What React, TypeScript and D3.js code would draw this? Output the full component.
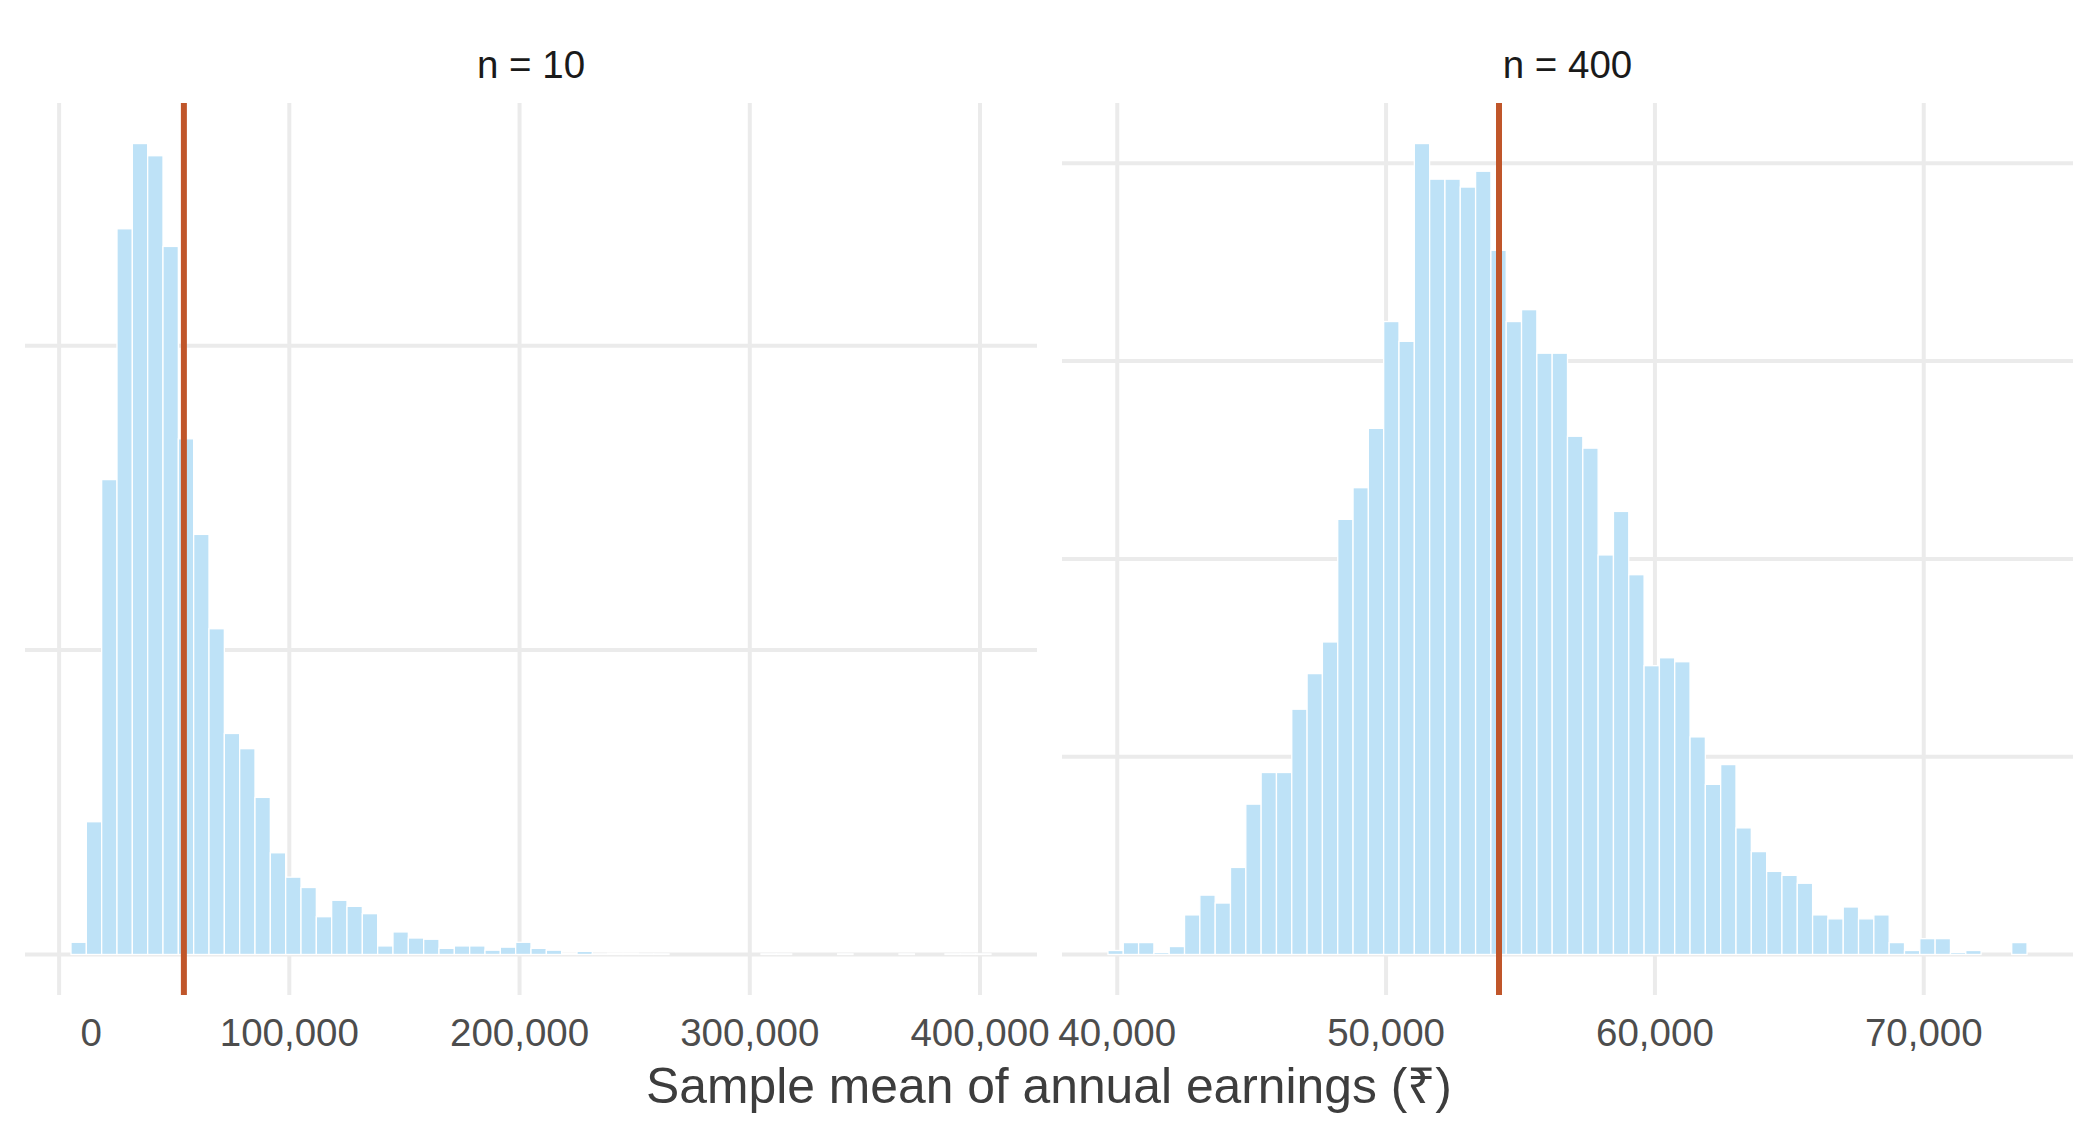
import { useEffect } from 'react'
import * as d3 from 'd3'

// histogram counts, 60 bins per panel
const smallCounts = [
  20, 218, 780, 1192, 1332, 1312, 1163, 847, 690, 535,
  363, 338, 258, 167, 127, 110, 62, 89, 79, 67,
  14, 37, 27, 25, 10, 14, 14, 7, 12, 20,
  10, 7, 2, 5, 1, 2, 2, 1, 1, 0,
  0, 0, 0, 0, 0, 1, 1, 0, 0, 0,
  1, 0, 0, 0, 1, 0, 0, 1, 1, 1,
]
const largeCounts = [
  2, 6, 6, 1, 4, 20, 30, 26, 44, 76,
  92, 92, 124, 142, 158, 220, 236, 266, 320, 310,
  410, 392, 392, 388, 396, 356, 320, 326, 304, 304,
  262, 256, 202, 224, 192, 146, 150, 148, 110, 86,
  96, 64, 52, 42, 40, 36, 20, 18, 24, 18,
  20, 6, 2, 8, 8, 1, 2, 0, 0, 6,
]
const smallBinStart = 5168
const smallBinWidth = 6660
const largeBinStart = 39654
const largeBinWidth = 569.8

const populationMean = 54200

const smallXTicks = [0, 100000, 200000, 300000, 400000]
const largeXTicks = [40000, 50000, 60000, 70000]
const smallYTicks = [0, 500, 1000]
const largeYTicks = [0, 100, 200, 300, 400]

const panelTitles = ['n = 10', 'n = 400']
const xTitle = 'Sample mean of annual earnings (₹)'

const W = 2100
const H = 1140
const TOP = 103
const BOTTOM = 995
const FONT = '"Liberation Sans", Arial, Helvetica, sans-serif'
const BAR_FILL = '#BEE2F7'
const GRID = '#EBEBEB'
const MEAN_COLOR = '#C0562A'

interface PanelProps {
  x0: number
  x1: number
  title: string
  counts: number[]
  binStart: number
  binWidth: number
  xTicks: number[]
  yTicks: number[]
  nudge: (v: number) => number
}

function Panel({ x0, x1, title, counts, binStart, binWidth, xTicks, yTicks, nudge }: PanelProps) {
  const lo = binStart
  const hi = binStart + counts.length * binWidth
  const padX = (hi - lo) * 0.05
  const x = d3.scaleLinear().domain([lo - padX, hi + padX]).range([x0, x1])

  const maxCount = d3.max(counts) || 1
  const y = d3.scaleLinear()
    .domain([-maxCount * 0.05, maxCount * 1.05])
    .range([BOTTOM, TOP])

  const fmt = d3.format(',')

  return (
    <g>
      {/* gridlines */}
      {yTicks.map(t => (
        <line key={'y' + t} x1={x0} x2={x1} y1={y(t)} y2={y(t)} stroke={GRID} strokeWidth={4} />
      ))}
      {xTicks.map(t => (
        <line key={'x' + t} x1={x(t)} x2={x(t)} y1={TOP} y2={BOTTOM} stroke={GRID} strokeWidth={4} />
      ))}

      {/* bars */}
      {counts.map((c, i) => {
        const b0 = binStart + i * binWidth
        const b1 = b0 + binWidth
        return (
          <rect
            key={i}
            x={x(b0)}
            y={y(c)}
            width={x(b1) - x(b0)}
            height={y(0) - y(c)}
            fill={BAR_FILL}
            stroke="#ffffff"
            strokeWidth={1.3}
          />
        )
      })}

      {/* population mean */}
      <line
        x1={x(populationMean)}
        x2={x(populationMean)}
        y1={TOP}
        y2={BOTTOM}
        stroke={MEAN_COLOR}
        strokeWidth={6}
      />

      {/* tick labels */}
      {xTicks.map(t => (
        <text
          key={'l' + t}
          x={x(t) + nudge(t)}
          y={1046}
          textAnchor="middle"
          fontSize={38.5}
          fill="#4D4D4D"
        >
          {fmt(t)}
        </text>
      ))}

      {/* facet strip */}
      <text x={(x0 + x1) / 2} y={78} textAnchor="middle" fontSize={38.5} fill="#1A1A1A">
        {title}
      </text>
    </g>
  )
}

export default function App() {
  useEffect(() => {
    document.body.style.margin = '0'
  }, [])

  return (
    <svg
      width={W}
      height={H}
      viewBox={`0 0 ${W} ${H}`}
      style={{ display: 'block', background: '#ffffff', fontFamily: FONT }}
    >
      <rect width={W} height={H} fill="#ffffff" />
      <Panel
        x0={25}
        x1={1037}
        title={panelTitles[0]}
        counts={smallCounts}
        binStart={smallBinStart}
        binWidth={smallBinWidth}
        xTicks={smallXTicks}
        yTicks={smallYTicks}
        nudge={v => (v === 0 ? 32 : 0)}
      />
      <Panel
        x0={1062}
        x1={2073}
        title={panelTitles[1]}
        counts={largeCounts}
        binStart={largeBinStart}
        binWidth={largeBinWidth}
        xTicks={largeXTicks}
        yTicks={largeYTicks}
        nudge={() => 0}
      />
      <text x={1049} y={1103} textAnchor="middle" fontSize={49.8} fill="#3D3D3D">
        {xTitle}
      </text>
    </svg>
  )
}
